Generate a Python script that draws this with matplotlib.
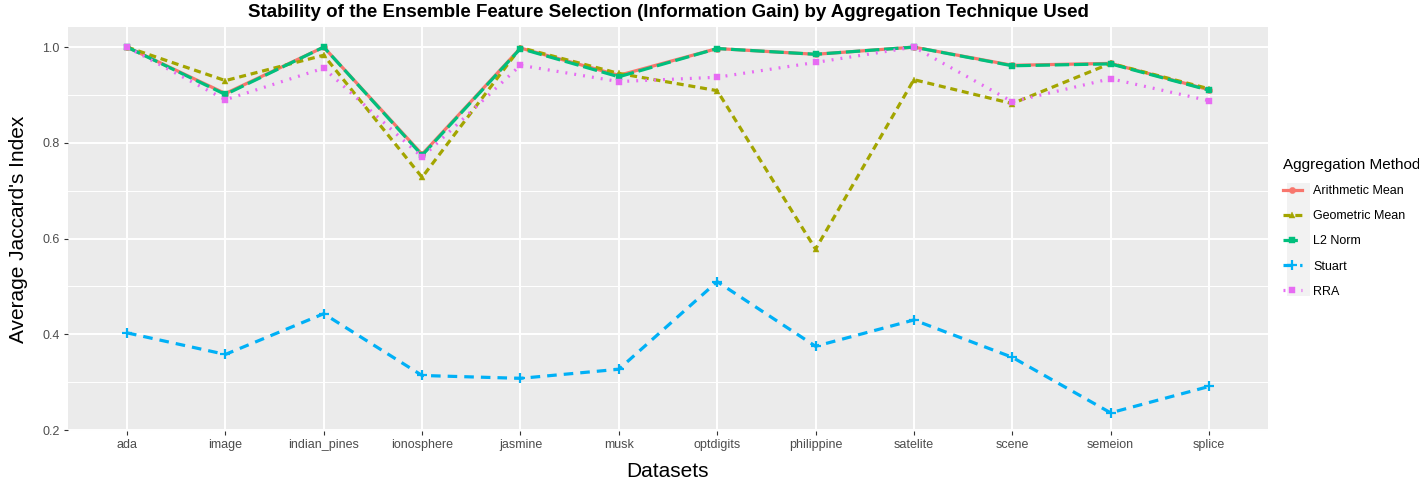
import numpy as np
import matplotlib.pyplot as plt
from matplotlib.patches import Rectangle
from matplotlib.ticker import FixedLocator

plt.rcParams['font.family'] = ['Liberation Sans', 'DejaVu Sans']

datasets = ['ada', 'image', 'indian_pines', 'ionosphere', 'jasmine', 'musk',
            'optdigits', 'philippine', 'satelite', 'scene', 'semeion', 'splice']

arithmetic_mean = [1.000, 0.903, 1.000, 0.776, 0.998, 0.941, 0.997, 0.985, 1.000, 0.962, 0.966, 0.911]
geometric_mean = [1.000, 0.930, 0.983, 0.728, 0.999, 0.945, 0.909, 0.578, 0.932, 0.882, 0.966, 0.913]
l2_norm = [1.000, 0.901, 1.000, 0.774, 0.997, 0.938, 0.997, 0.985, 1.000, 0.961, 0.965, 0.910]
stuart = [0.403, 0.358, 0.443, 0.314, 0.308, 0.327, 0.510, 0.375, 0.430, 0.352, 0.236, 0.291]
rra = [1.000, 0.890, 0.956, 0.770, 0.962, 0.928, 0.937, 0.968, 1.000, 0.886, 0.934, 0.888]

series = [
    ('Arithmetic Mean', arithmetic_mean, '#F8766D', '-', 'o'),
    ('Geometric Mean', geometric_mean, '#A3A500', (0, (2.2, 1.5)), '^'),
    ('L2 Norm', l2_norm, '#00BF7D', (0, (4.5, 1.5)), 's'),
    ('Stuart', stuart, '#00B0F6', (0, (3, 2.2)), '+'),
    ('RRA', rra, '#E76BF3', (0, (0.6, 2.2)), 's'),
]

W, H = 1419, 482
fig = plt.figure(figsize=(W / 100, H / 100), dpi=100)
ax = fig.add_axes([68 / W, 1 - 431 / H, 1200 / W, 404 / H])
ax.set_facecolor('#EBEBEB')

x = np.arange(len(datasets))
for name, vals, color, ls, mk in series:
    ax.plot(x, vals, color=color, linestyle=ls, linewidth=2.3, marker=mk,
            markersize=4.5 if mk != '+' else 7, markeredgewidth=1.6 if mk == '+' else 0.3,
            label=name, zorder=3)

ax.set_xlim(-0.6, len(datasets) - 0.4)
ax.set_ylim(0.198, 1.042)
ax.set_xticks(x)
ax.set_xticklabels(datasets)
ax.yaxis.set_major_locator(FixedLocator([0.2, 0.4, 0.6, 0.8, 1.0]))
ax.yaxis.set_minor_locator(FixedLocator([0.3, 0.5, 0.7, 0.9]))
ax.set_yticklabels(['0.2', '0.4', '0.6', '0.8', '1.0'])

ax.grid(which='major', color='white', linewidth=1.4, zorder=0)
ax.grid(which='minor', axis='y', color='white', linewidth=0.7, zorder=0)
ax.set_axisbelow(True)
for s in ax.spines.values():
    s.set_visible(False)
ax.tick_params(axis='both', which='major', length=3, color='#333333',
               labelsize=9, labelcolor='#4D4D4D', pad=3)
ax.tick_params(axis='y', which='minor', length=0)

ax.set_xlabel('Datasets', fontsize=15, labelpad=8)
ax.set_ylabel("Average Jaccard's Index", fontsize=15, labelpad=10)
ax.set_title('Stability of the Ensemble Feature Selection (Information Gain) by Aggregation Technique Used',
             fontsize=13.5, fontweight='bold', pad=7)

# grey legend key backgrounds like ggplot
fig.patches.append(Rectangle((1287 / W, 1 - 296 / H), 23 / W, 113 / H,
                             transform=fig.transFigure, facecolor='#F2F2F2',
                             edgecolor='none', zorder=0))

leg = fig.legend(handles=ax.get_lines(), title='Aggregation Method', loc='upper left',
                 bbox_to_anchor=(1283 / W, 1 - 158 / H), frameon=False, fontsize=9,
                 title_fontsize=11, handlelength=1.5, handletextpad=0.9,
                 labelspacing=1.05, borderaxespad=0, borderpad=0)
leg._legend_box.align = 'left'

fig.savefig('out.png', dpi=100)
